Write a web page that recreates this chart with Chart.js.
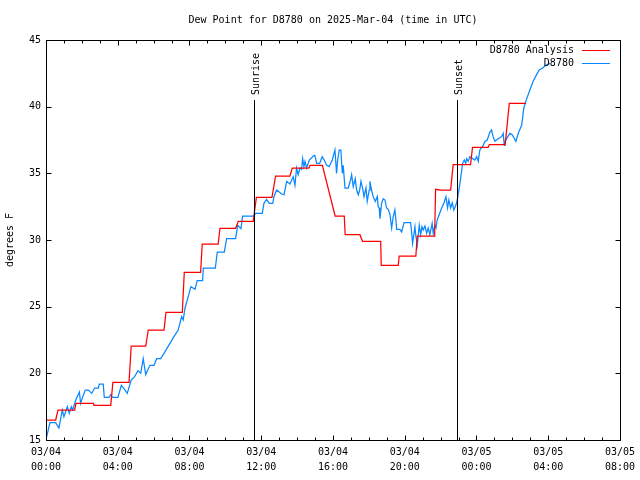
<!DOCTYPE html>
<html><head><meta charset="utf-8">
<script src="https://cdn.jsdelivr.net/npm/chart.js@4.4.1/dist/chart.umd.min.js"></script>
<style>html,body{margin:0;padding:0;background:#fff;}canvas{display:block;}</style>
</head><body>
<canvas id="c" width="640" height="480"></canvas>
<script>
const titleText = 'Dew Point for D8780 on 2025-Mar-04 (time in UTC)';
const yAxisLabel = 'degrees F';
const seriesNames = ['D8780 Analysis', 'D8780'];
const xTickHours = [0, 4, 8, 12, 16, 20, 24, 28, 32];
const yTickValues = [15, 20, 25, 30, 35, 40, 45];
const sunEvents = ['Sunrise', 'Sunset'];
const sunHours = [11.59, 22.94];

const analysisHours = [0.04,0.54,0.67,1.6,1.67,2.64,2.68,3.61,3.73,4.63,4.75,5.56,5.7,6.58,6.69,7.6,7.71,8.62,8.71,9.6,9.7,10.57,10.72,11.56,11.65,11.73,12.6,12.8,13.6,13.73,14.66,14.72,15.41,16.12,16.63,16.68,17.5,17.65,18.66,18.69,19.64,19.69,20.62,20.7,21.67,21.72,22.0,22.56,22.7,23.67,23.78,24.65,24.72,25.6,25.83,26.76];
const analysisValues = [16.5,16.5,17.25,17.25,17.75,17.75,17.6,17.6,19.33,19.33,22.05,22.05,23.25,23.25,24.58,24.58,27.58,27.58,29.7,29.7,30.88,30.88,31.4,31.4,32.4,33.2,33.2,34.8,34.8,35.4,35.4,35.6,35.6,31.8,31.8,30.4,30.4,29.9,29.9,28.1,28.1,28.8,28.8,30.3,30.3,33.8,33.75,33.75,35.65,35.65,36.95,36.95,37.15,37.15,40.25,40.25];

const obsHours = [0.04,0.22,0.54,0.72,0.91,1.0,1.19,1.30,1.41,1.49,1.66,1.74,1.86,1.93,2.05,2.19,2.36,2.55,2.71,2.92,2.97,3.19,3.25,3.51,3.61,3.70,4.01,4.20,4.35,4.53,4.75,4.94,5.13,5.28,5.42,5.56,5.65,5.80,6.02,6.17,6.39,6.58,6.80,6.91,7.13,7.37,7.56,7.65,7.75,7.93,8.08,8.31,8.43,8.73,8.77,9.44,9.55,9.94,10.07,10.57,10.69,10.87,10.96,11.56,11.69,12.06,12.15,12.30,12.45,12.64,12.71,12.86,13.14,13.27,13.42,13.60,13.78,13.88,13.97,14.06,14.16,14.25,14.31,14.38,14.44,14.53,14.68,14.90,14.99,15.09,15.26,15.40,15.51,15.65,15.79,15.96,16.11,16.20,16.26,16.35,16.44,16.52,16.57,16.67,16.85,16.98,17.04,17.13,17.24,17.32,17.41,17.49,17.56,17.65,17.73,17.84,17.91,18.02,18.06,18.15,18.24,18.36,18.47,18.52,18.58,18.62,18.71,18.80,18.90,18.99,19.08,19.18,19.27,19.36,19.45,19.51,19.55,19.73,19.83,19.92,19.96,20.33,20.39,20.44,20.51,20.57,20.62,20.70,20.81,20.89,20.96,21.03,21.13,21.22,21.31,21.40,21.53,21.59,21.68,21.74,21.81,21.92,22.06,22.19,22.30,22.39,22.46,22.56,22.65,22.74,22.85,22.93,23.04,23.13,23.23,23.32,23.40,23.45,23.54,23.63,23.91,24.01,24.10,24.19,24.38,24.47,24.60,24.75,24.84,24.93,25.03,25.21,25.40,25.49,25.55,25.59,25.68,25.86,25.99,26.20,26.33,26.52,26.64,26.80,26.98,27.16,27.35,27.50,27.69,27.87,28.09];
const obsValues = [15.25,16.3,16.3,15.9,17.25,16.75,17.5,17.0,17.5,17.25,18.0,18.25,18.6,17.75,18.25,18.75,18.75,18.5,18.9,18.9,19.2,19.2,18.2,18.2,18.4,18.2,18.2,19.1,18.85,18.5,19.5,19.75,20.2,20.0,21.1,19.9,20.2,20.6,20.6,21.1,21.1,21.5,22.0,22.25,22.75,23.25,24.25,24.0,24.9,25.75,26.5,26.3,26.95,26.95,27.9,27.9,29.1,29.1,30.1,30.1,31.1,30.85,31.8,31.8,32.0,32.0,32.75,33.05,32.75,32.75,33.25,33.75,33.45,33.4,34.4,34.2,34.75,34.1,35.4,34.9,35.4,35.3,36.1,35.5,35.9,35.4,36.0,36.3,36.35,35.75,35.75,36.25,36.0,35.6,35.5,36.0,36.75,35.0,36.0,36.75,36.75,35.0,35.6,33.9,33.9,34.5,34.9,34.0,34.6,33.75,33.4,33.75,34.4,33.9,33.25,33.9,32.9,33.75,34.4,33.75,33.25,32.9,33.25,32.5,32.4,31.6,32.75,33.1,33.0,32.4,32.3,31.9,30.9,31.75,32.25,31.5,30.8,30.8,30.6,31.1,31.3,31.3,30.5,29.75,30.4,31.0,30.3,29.6,31.1,30.4,31.0,30.75,31.05,30.5,30.9,30.4,31.25,30.5,31.1,30.9,31.5,31.9,32.4,32.8,33.25,32.4,33.0,32.4,32.8,32.25,32.6,33.0,33.9,34.75,35.75,36.0,35.75,36.1,35.9,36.25,36.0,36.25,35.9,36.75,37.1,37.4,37.5,38.1,38.25,37.75,37.4,37.6,37.75,38.0,37.1,37.4,37.6,38.0,37.9,37.4,38.0,38.6,39.9,40.6,41.25,41.9,42.4,42.75,42.9,43.1,43.25];

const FONT = "'DejaVu Sans Mono', monospace";
const seriesColors = ['#ff0000', '#0a88ff'];

function toPoints(xs, ys) { return xs.map((h, i) => ({ x: h, y: ys[i] })); }
function timeLabel(h) {
  const day = h < 24 ? '03/04' : '03/05';
  const hr = h % 24;
  return [day, (hr < 10 ? '0' : '') + hr + ':00'];
}

const gnuplotDecor = {
  id: 'gnuplotDecor',
  afterDatasetsDraw(chart) {
    const { ctx, chartArea: a, scales: { x, y } } = chart;
    const s = v => Math.round(v) + 0.5;
    ctx.save();
    // title centred over the plot area
    ctx.font = '10px ' + FONT;
    ctx.fillStyle = '#000';
    ctx.textAlign = 'center';
    ctx.textBaseline = 'middle';
    ctx.fillText(titleText, (a.left + a.right) / 2, a.top - 20);

    ctx.strokeStyle = '#000';
    ctx.lineWidth = 1;
    const L = s(a.left), R = s(a.right), T = s(a.top), B = s(a.bottom);
    ctx.beginPath();
    ctx.rect(L, T, R - L, B - T);
    for (let h = 0; h <= 32; h++) {
      const px = s(x.getPixelForValue(h));
      const len = h % 4 === 0 ? 5 : 3;
      ctx.moveTo(px, B); ctx.lineTo(px, B - len);
      ctx.moveTo(px, T); ctx.lineTo(px, T + len);
    }
    yTickValues.forEach(v => {
      const py = s(y.getPixelForValue(v));
      ctx.moveTo(L, py); ctx.lineTo(L + 5, py);
      ctx.moveTo(R, py); ctx.lineTo(R - 5, py);
    });
    ctx.stroke();
    sunEvents.forEach((name, i) => {
      const px = s(x.getPixelForValue(sunHours[i]));
      const top = y.getPixelForValue(40.5);
      ctx.beginPath();
      ctx.moveTo(px, B); ctx.lineTo(px, Math.round(top));
      ctx.stroke();
      ctx.save();
      ctx.translate(px + 1.5, top - 5);
      ctx.rotate(-Math.PI / 2);
      ctx.textAlign = 'left';
      ctx.textBaseline = 'middle';
      ctx.fillText(name, 0, 0);
      ctx.restore();
    });
    seriesNames.forEach((name, i) => {
      const ly = Math.round(a.top + 9.5 + i * 13.2) + 0.5;
      ctx.textAlign = 'right';
      ctx.textBaseline = 'middle';
      ctx.fillStyle = '#000';
      ctx.fillText(name, a.right - 46, ly);
      ctx.strokeStyle = seriesColors[i];
      ctx.beginPath();
      ctx.moveTo(a.right - 38, ly); ctx.lineTo(a.right - 10, ly);
      ctx.stroke();
    });
    ctx.restore();
  }
};

new Chart(document.getElementById('c'), {
  type: 'line',
  data: {
    datasets: [
      { label: seriesNames[0], data: toPoints(analysisHours, analysisValues), borderColor: seriesColors[0], borderWidth: 1.25, pointRadius: 0, tension: 0, fill: false },
      { label: seriesNames[1], data: toPoints(obsHours, obsValues), borderColor: seriesColors[1], borderWidth: 1.25, pointRadius: 0, tension: 0, fill: false }
    ]
  },
  options: {
    responsive: false,
    animation: false,
    devicePixelRatio: 1,
    layout: { padding: { left: 0, right: 20, top: 40, bottom: 0 } },
    plugins: {
      legend: { display: false },
      tooltip: { enabled: false },
      title: { display: false }
    },
    scales: {
      x: {
        type: 'linear', min: 0, max: 32,
        afterBuildTicks: sc => { sc.ticks = xTickHours.map(v => ({ value: v })); },
        afterFit: sc => { sc.height = 40; },
        grid: { display: false, drawTicks: false },
        border: { display: false },
        ticks: { autoSkip: false, maxRotation: 0, minRotation: 0, padding: 5, color: '#000', font: { family: FONT, size: 10, lineHeight: 1.5 }, callback: v => timeLabel(v) }
      },
      y: {
        type: 'linear', min: 15, max: 45,
        afterBuildTicks: sc => { sc.ticks = yTickValues.map(v => ({ value: v })); },
        afterFit: sc => { sc.width = 46; },
        grid: { display: false, drawTicks: false },
        border: { display: false },
        ticks: { padding: 5, color: '#000', font: { family: FONT, size: 10 }, callback: v => String(v) },
        title: { display: true, text: yAxisLabel, color: '#000', font: { family: FONT, size: 10 }, padding: { top: 4, bottom: 0 } }
      }
    }
  },
  plugins: [gnuplotDecor]
});
</script>
</body></html>
